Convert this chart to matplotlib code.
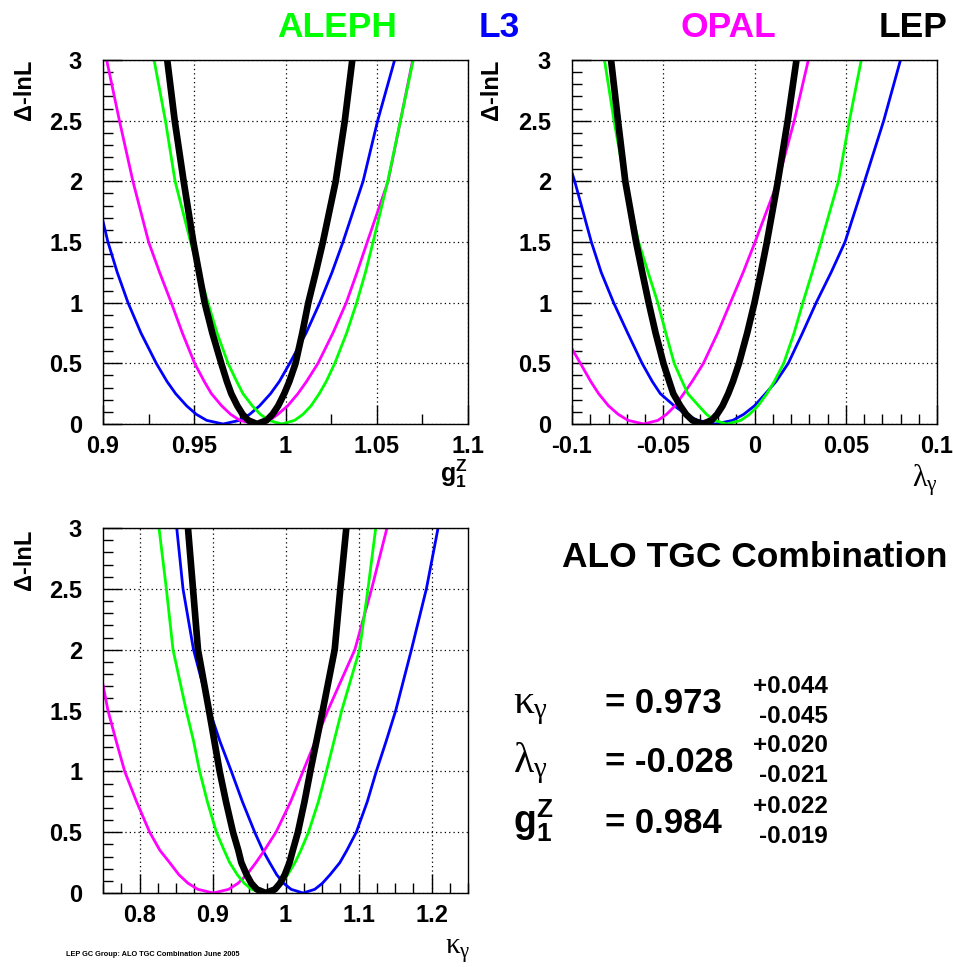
import matplotlib
matplotlib.use("Agg")
import matplotlib.pyplot as plt
from matplotlib.ticker import MultipleLocator, FormatStrFormatter

plt.rcParams["font.family"] = ["Liberation Sans", "DejaVu Sans"]
plt.rcParams["font.weight"] = "bold"
plt.rcParams["axes.unicode_minus"] = False
plt.rcParams["mathtext.fontset"] = "custom"
plt.rcParams["mathtext.rm"] = "Liberation Serif:weight=normal"
plt.rcParams["mathtext.it"] = "Liberation Serif:weight=normal"
plt.rcParams["mathtext.bf"] = "Liberation Sans:weight=bold"

W, H = 954, 967

# Delta-lnL levels (left branch -> minimum -> right branch)
LEVELS = [3, 2.5, 2, 1.5, 1.25, 1, 0.75, 0.5, 0.35, 0.25, 0.15, 0.08, 0.03, 0,
          0.03, 0.08, 0.15, 0.25, 0.35, 0.5, 0.75, 1, 1.25, 1.5, 2, 2.5, 3]

# ---- g1Z panel ----
g1z_aleph_x = [0.928, 0.9342, 0.9395, 0.948, 0.9527, 0.9575, 0.9625, 0.9685, 0.9733, 0.9767,
               0.9818, 0.9862, 0.9908, 0.998, 1.005, 1.0096, 1.014, 1.0185, 1.0223, 1.027,
               1.0335, 1.039, 1.0438, 1.048, 1.056, 1.063, 1.070]
g1z_lep_x = [0.9352, 0.9393, 0.9442, 0.9495, 0.9526, 0.9557, 0.9599, 0.9648, 0.9679, 0.9703,
             0.9736, 0.9765, 0.9796, 0.9844, 0.9896, 0.9929, 0.996, 0.9993, 1.0021, 1.0055,
             1.0092, 1.0125, 1.0166, 1.0205, 1.0275, 1.0325, 1.0366]
g1z_opal_x = [0.902, 0.909, 0.9164, 0.925, 0.931, 0.9374, 0.9435, 0.9502, 0.9555, 0.9594,
              0.965, 0.9699, 0.975, 0.983, 0.9913, 0.9958, 1.0012, 1.0068, 1.0115, 1.0178,
              1.026, 1.0333, 1.0392, 1.0448, 1.0562, 1.063, 1.0697]
g1z_l3_x = [0.9, 0.9027, 0.9078, 0.9137, 0.9208, 0.9292, 0.9351, 0.9398, 0.9458, 0.9511,
            0.9568, 0.9658, 0.9748, 0.9804, 0.9858, 0.9918, 0.9966, 1.0023, 1.0113, 1.0188,
            1.0255, 1.0315, 1.0425, 1.0505, 1.0598]
g1z_l3_y = [1.67, 1.5, 1.25, 1, 0.75, 0.5, 0.35, 0.25, 0.15, 0.08, 0.03, 0,
            0.03, 0.08, 0.15, 0.25, 0.35, 0.5, 0.75, 1, 1.25, 1.5, 2, 2.5, 3]

# ---- lambda_gamma panel ----
lam_aleph_x = [-0.0822, -0.077, -0.071, -0.0635, -0.0583, -0.053, -0.0486, -0.044, -0.0396,
               -0.0365, -0.0306, -0.0263, -0.0221, -0.0151, -0.0075, -0.0027, 0.0019, 0.0068,
               0.0108, 0.016, 0.0217, 0.0265, 0.0316, 0.0365, 0.046, 0.052, 0.0585]
lam_lep_x = [-0.0786, -0.0748, -0.0708, -0.0649, -0.0615, -0.058, -0.0542, -0.0499, -0.0467,
             -0.0445, -0.0407, -0.0375, -0.034, -0.0285, -0.0236, -0.0205, -0.0175, -0.0144,
             -0.0118, -0.0085, -0.004, 0.0, 0.0035, 0.0068, 0.0128, 0.0182, 0.023]
lam_opal_x = [-0.1, -0.0954, -0.0897, -0.0854, -0.08, -0.0747, -0.0693, -0.0607, -0.0529,
              -0.0482, -0.0435, -0.0388, -0.0342, -0.028, -0.0202, -0.0132, -0.0062, 0.0003,
              0.0128, 0.0218, 0.0295]
lam_opal_y = [0.62, 0.5, 0.35, 0.25, 0.15, 0.08, 0.03, 0, 0.03, 0.08, 0.15, 0.25, 0.35,
              0.5, 0.75, 1, 1.25, 1.5, 2, 2.5, 3]
lam_l3_x = [-0.1, -0.0985, -0.0894, -0.084, -0.0772, -0.0695, -0.0616, -0.056, -0.0516,
            -0.044, -0.0375, -0.0313, -0.0215, -0.0119, -0.0059, 0.0, 0.006, 0.0118, 0.0185,
            0.0263, 0.0338, 0.042, 0.0496, 0.0603, 0.0708, 0.08]
lam_l3_y = [2.07, 2, 1.5, 1.25, 1, 0.75, 0.5, 0.35, 0.25, 0.15, 0.08, 0.03, 0,
            0.03, 0.08, 0.15, 0.25, 0.35, 0.5, 0.75, 1, 1.25, 1.5, 2, 2.5, 3]

# ---- kappa_gamma panel ----
kap_aleph_x = [0.8267, 0.8368, 0.8459, 0.864, 0.874, 0.8824, 0.893, 0.9053, 0.916, 0.9235,
               0.934, 0.9435, 0.9534, 0.969, 0.9846, 0.9945, 1.003, 1.013, 1.021, 1.0315,
               1.045, 1.056, 1.0665, 1.077, 1.1015, 1.113, 1.1236]
kap_lep_x = [0.8664, 0.8733, 0.8801, 0.8952, 0.9025, 0.9098, 0.9185, 0.9281, 0.9354, 0.9395,
             0.9468, 0.9532, 0.9608, 0.973, 0.9855, 0.9925, 0.999, 1.0055, 1.010, 1.017,
             1.026, 1.034, 1.0425, 1.051, 1.0674, 1.0751, 1.0833]
kap_opal_x = [0.75, 0.7568, 0.768, 0.7797, 0.796, 0.8139, 0.828, 0.8413, 0.854, 0.8665,
              0.88, 0.901, 0.922, 0.935, 0.947, 0.9595, 0.971, 0.987, 1.007, 1.024, 1.041,
              1.058, 1.095, 1.118, 1.139]
kap_opal_y = [1.71, 1.5, 1.25, 1, 0.75, 0.5, 0.35, 0.25, 0.15, 0.08, 0.03, 0,
              0.03, 0.08, 0.15, 0.25, 0.35, 0.5, 0.75, 1, 1.25, 1.5, 2, 2.5, 3]
kap_l3_x = [0.851, 0.8596, 0.874, 0.896, 0.910, 0.9258, 0.941, 0.9578, 0.969, 0.9783,
            0.988, 0.9975, 1.0078, 1.024, 1.04, 1.0505, 1.061, 1.0745, 1.084, 1.097,
            1.112, 1.1244, 1.138, 1.151, 1.1725, 1.193, 1.209]

GREEN, BLUE, MAGENTA, BLACK = "#00ff00", "#0000ff", "#ff00ff", "#000000"


def fx(px):
    return px / W


def fy(py):
    return 1 - py / H


def style_axes(ax, xlim, major, minor):
    ax.set_xlim(*xlim)
    ax.set_ylim(0, 3)
    ax.xaxis.set_major_locator(MultipleLocator(major))
    ax.xaxis.set_minor_locator(MultipleLocator(minor))
    ax.yaxis.set_major_locator(MultipleLocator(0.5))
    ax.yaxis.set_minor_locator(MultipleLocator(0.1))
    ax.xaxis.set_major_formatter(FormatStrFormatter("%g"))
    ax.yaxis.set_major_formatter(FormatStrFormatter("%g"))
    ax.tick_params(which="both", direction="in", top=False, right=False, width=1)
    ax.tick_params(which="major", length=14, labelsize=17)
    ax.tick_params(which="minor", length=7)
    ax.tick_params(axis="y", pad=15)
    ax.tick_params(axis="x", pad=8)
    ax.grid(True, which="major", color="black", linestyle=(0, (1, 2.5)), linewidth=0.9)
    ax.set_axisbelow(True)
    for s in ax.spines.values():
        s.set_linewidth(1.0)


def draw_curves(ax, curves):
    for x, y, color in curves:
        lw = 4.8 if color == BLACK else 2.0
        ax.plot(x, y, color=color, linewidth=lw, solid_joinstyle="round",
                zorder=3 if color == BLACK else 2)


fig = plt.figure(figsize=(W / 100, H / 100), dpi=100)

ax1 = fig.add_axes([fx(103), fy(424), 365 / W, 364 / H])
style_axes(ax1, (0.9, 1.1), 0.05, 0.025)
draw_curves(ax1, [(g1z_l3_x, g1z_l3_y, BLUE), (g1z_opal_x, LEVELS, MAGENTA),
                  (g1z_aleph_x, LEVELS, GREEN), (g1z_lep_x, LEVELS, BLACK)])

ax2 = fig.add_axes([fx(572), fy(424), 365 / W, 364 / H])
style_axes(ax2, (-0.1, 0.1), 0.05, 0.01)
draw_curves(ax2, [(lam_l3_x, lam_l3_y, BLUE), (lam_opal_x, lam_opal_y, MAGENTA),
                  (lam_aleph_x, LEVELS, GREEN), (lam_lep_x, LEVELS, BLACK)])

ax3 = fig.add_axes([fx(103), fy(893), 365 / W, 365 / H])
style_axes(ax3, (0.75, 1.25), 0.1, 0.025)
draw_curves(ax3, [(kap_l3_x, LEVELS, BLUE), (kap_opal_x, kap_opal_y, MAGENTA),
                  (kap_aleph_x, LEVELS, GREEN), (kap_lep_x, LEVELS, BLACK)])

# y labels
for x0, y0 in [(24, 60), (492, 60), (24, 530)]:
    fig.text(fx(x0), fy(y0), "Δ-lnL", rotation=90, ha="center", va="top", fontsize=17)

# x labels
fig.text(fx(468), fy(458), r"$\mathbf{g}_{\mathbf{1}}^{\mathbf{Z}}$", ha="right", va="top", fontsize=18)
fig.text(fx(938), fy(462), r"$\lambda_\gamma$", ha="right", va="top", fontsize=22)
fig.text(fx(470), fy(937), r"$\kappa_\gamma$", ha="right", va="top", fontsize=21)

# experiment labels
for name, xc, col in [("ALEPH", 337, GREEN), ("L3", 499, BLUE), ("OPAL", 728, MAGENTA), ("LEP", 913, BLACK)]:
    fig.text(fx(xc), fy(37), name, ha="center", va="baseline", fontsize=25.5, color=col)

fig.text(fx(948), fy(567), "ALO TGC Combination", ha="right", va="baseline", fontsize=25.5)

# combined results
params = [r"$\kappa_\gamma$", r"$\lambda_\gamma$", r"$\mathbf{g}_{\mathbf{1}}^{\mathbf{Z}}$"]
param_sizes = [30, 30, 27]
centrals = ["= 0.973", "= -0.028", "= 0.984"]
ups = ["+0.044", "+0.020", "+0.022"]
downs = ["-0.045", "-0.021", "-0.019"]
bases = [713, 772, 833]
for p, ps, c, u, d, b in zip(params, param_sizes, centrals, ups, downs, bases):
    fig.text(fx(513), fy(b), p, ha="left", va="baseline", fontsize=ps)
    fig.text(fx(605), fy(b), c, ha="left", va="baseline", fontsize=25)
    fig.text(fx(828), fy(b - 20), u, ha="right", va="baseline", fontsize=17.5)
    fig.text(fx(828), fy(b + 10), d, ha="right", va="baseline", fontsize=17.5)

fig.text(fx(66), fy(956), "LEP GC Group: ALO TGC Combination June 2005", ha="left",
         va="baseline", fontsize=5.3)

fig.savefig("out.png", dpi=100)
